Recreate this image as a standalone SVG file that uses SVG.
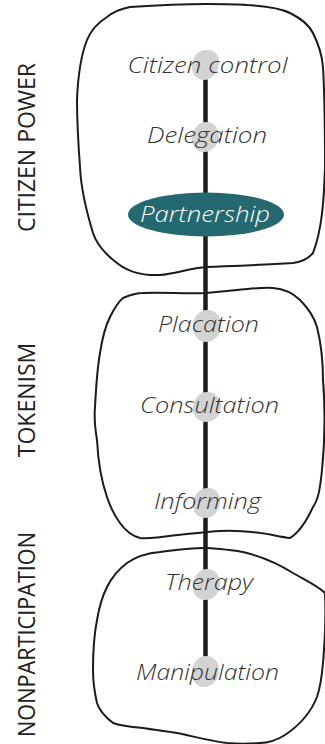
<svg xmlns="http://www.w3.org/2000/svg" width="325" height="744" viewBox="0 0 325 744">
<style>
.outline{fill:none;stroke:#1c1a1b;stroke-width:2;stroke-linejoin:round}
.blob{fill:#d3d3d3}
.lbl{font-family:"Open Sans","Noto Sans",sans-serif;font-style:italic;font-weight:300;font-size:22px;fill:#333;text-anchor:middle}
.grp{font-family:"Open Sans","Noto Sans",sans-serif;font-size:23px;fill:#222;text-anchor:middle}
</style>
<rect width="325" height="744" fill="#fff"/>
<g id="citizen-power">
<path class="outline" d="M130,7 C160,5 190,4 207,4 C225,4 237,4 247,5 C265,6 280,8 290,13 C302,19 309,25 313,33 C319,45 322,55 323,67 C325,100 325,140 325,167 C324,200 322,230 313,253 C308,259 301,262 293,263 C260,265 230,266 207,267 C190,268 175,274 160,275 C140,276 127,271 117,263 C105,254 97,245 93,233 C86,210 81,190 80,167 C78,140 77,120 77,100 C78,75 81,55 87,40 C92,28 99,22 107,17 C113,12 120,9 130,7 Z"/>
<text class="grp" transform="translate(35,147.5) rotate(-90)" textLength="169" lengthAdjust="spacingAndGlyphs">CITIZEN POWER</text>
</g>
<g id="tokenism">
<path class="outline" d="M123,298 C130,295 136,293 143,293 C165,292 185,294 206,293 C218,292 228,291 237,290 C250,289 262,287 273,288 C285,289 294,294 300,300 C308,308 314,317 317,327 C321,343 323,362 323,380 C325,405 325,440 322,470 C320,490 318,500 313,507 C307,520 300,532 290,538 C280,537 270,534 260,533 C245,531 232,530 220,531 C205,532 190,534 177,535 C163,537 150,539 140,538 C132,536 125,530 120,523 C114,515 110,506 107,497 C101,480 98,460 97,440 C95,428 94,418 95,407 C96,388 97,370 100,353 C102,340 105,327 110,317 C114,309 118,302 123,298 Z"/>
<text class="grp" transform="translate(35,400) rotate(-90)">TOKENISM</text>
</g>
<g id="nonparticipation">
<path class="outline" d="M206,548 C220,549 235,550 247,553 C262,557 280,565 293,573 C305,580 318,586 325,593 C326,615 325,640 323,663 C322,675 320,688 317,697 C311,712 300,725 285,735 C277,740 268,743 260,743 C248,744 238,744 227,743 C210,741 192,736 177,733 C165,731 155,730 143,728 C132,727 121,726 113,723 C104,716 99,710 97,703 C94,690 93,680 93,670 C93,650 94,635 97,620 C99,608 102,597 107,587 C112,577 119,569 127,563 C137,556 148,553 160,552 C175,550 190,548 206,548 Z"/>
<text class="grp" transform="translate(35,634.5) rotate(-90)" textLength="205" lengthAdjust="spacingAndGlyphs">NONPARTICIPATION</text>
</g>
<g id="connectors">
<line x1="205.5" y1="64" x2="205.5" y2="671" stroke="#1f1c1d" stroke-width="4.5"/>
</g>
<g id="citizen-control">
<path class="blob" d="M205,50 C214,49 220,55 219,63 C218,73 212,80 204,80 C196,80 191,73 192,65 C193,56 198,51 205,50 Z"/>
<text class="lbl" x="207.5" y="73" textLength="160" lengthAdjust="spacingAndGlyphs">Citizen control</text>
</g>
<g id="delegation">
<path class="blob" d="M206,122 C214,122 219,128 219,136 C219,145 212,152 204,152 C196,152 191,145 192,137 C193,128 199,122 206,122 Z"/>
<text class="lbl" x="207" y="143" textLength="120" lengthAdjust="spacingAndGlyphs">Delegation</text>
</g>
<g id="partnership">
<ellipse cx="206" cy="214.5" rx="78" ry="22" fill="#246870"/>
<text class="lbl" x="205" y="222" textLength="130" lengthAdjust="spacingAndGlyphs" style="fill:#fff">Partnership</text>
</g>
<g id="placation">
<path class="blob" d="M207,310 C216,310 222,317 221,326 C220,336 214,342 206,342 C198,342 193,335 193,327 C193,317 199,310 207,310 Z"/>
<text class="lbl" x="208.5" y="332" textLength="101" lengthAdjust="spacingAndGlyphs">Placation</text>
</g>
<g id="consultation">
<path class="blob" d="M207,392 C215,392 221,398 221,406 C221,416 214,422 206,422 C198,422 192,415 193,407 C194,398 200,392 207,392 Z"/>
<text class="lbl" x="209.5" y="413" textLength="139" lengthAdjust="spacingAndGlyphs">Consultation</text>
</g>
<g id="informing">
<path class="blob" d="M208,488 C216,488 221,495 220,503 C219,512 213,518 205,518 C197,518 192,511 193,503 C194,494 200,488 208,488 Z"/>
<text class="lbl" x="207.5" y="509" textLength="107" lengthAdjust="spacingAndGlyphs">Informing</text>
</g>
<g id="therapy">
<path class="blob" d="M207,569 C215,569 221,576 220,585 C219,594 213,600 205,600 C197,600 192,593 193,585 C194,575 200,569 207,569 Z"/>
<text class="lbl" x="209" y="590" textLength="88" lengthAdjust="spacingAndGlyphs">Therapy</text>
</g>
<g id="manipulation">
<path class="blob" d="M206,656 C214,656 219,662 219,670 C219,680 212,687 204,687 C196,687 191,680 192,671 C193,662 199,656 206,656 Z"/>
<text class="lbl" x="207.5" y="680" textLength="143" lengthAdjust="spacingAndGlyphs">Manipulation</text>
</g>
</svg>
